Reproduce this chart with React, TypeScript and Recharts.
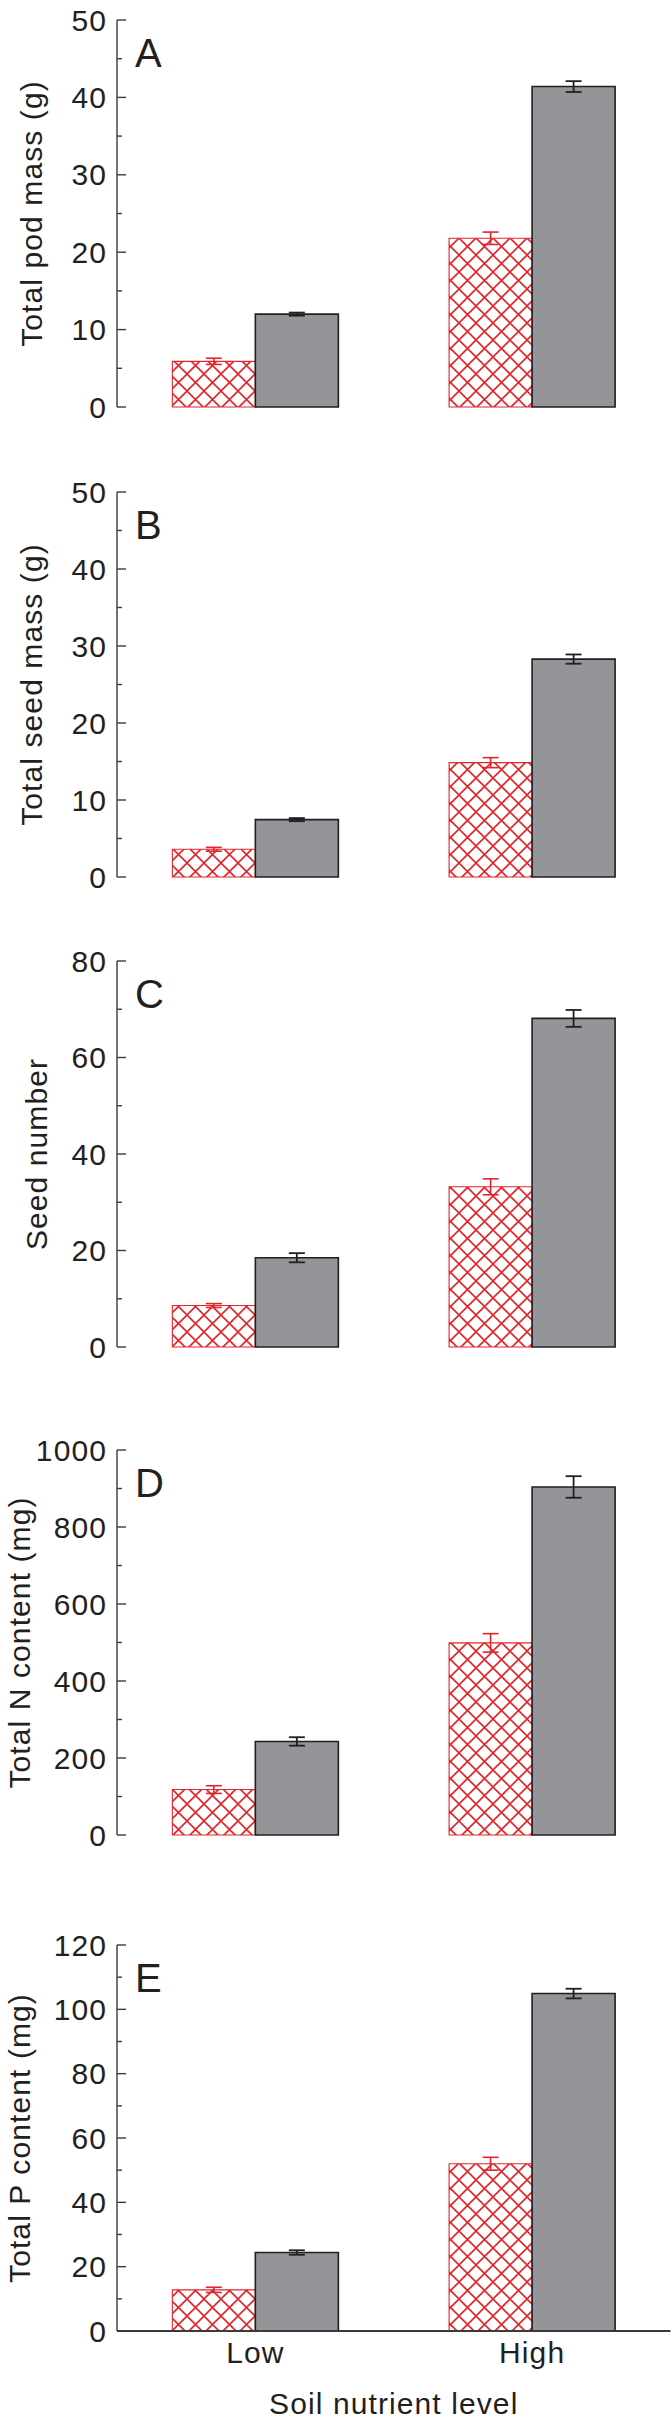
import React from 'react';
import { BarChart, Bar, XAxis, YAxis, ErrorBar } from 'recharts';

// soil nutrient levels (categories)
const levels = ['Low', 'High'];

// A: total pod mass (g)
const podMassHatched = [5.9, 21.8];
const podMassHatchedErr = [0.4, 0.8];
const podMassGray = [12.0, 41.4];
const podMassGrayErr = [0.2, 0.7];
const podMassTicks = [0, 10, 20, 30, 40, 50];

// B: total seed mass (g)
const seedMassHatched = [3.6, 14.85];
const seedMassHatchedErr = [0.25, 0.65];
const seedMassGray = [7.45, 28.3];
const seedMassGrayErr = [0.2, 0.6];
const seedMassTicks = [0, 10, 20, 30, 40, 50];

// C: seed number
const seedNumHatched = [8.6, 33.2];
const seedNumHatchedErr = [0.4, 1.65];
const seedNumGray = [18.5, 68.1];
const seedNumGrayErr = [0.95, 1.75];
const seedNumTicks = [0, 20, 40, 60, 80];

// D: total N content (mg)
const nHatched = [118, 499];
const nHatchedErr = [10, 24];
const nGray = [243, 904];
const nGrayErr = [11, 28];
const nTicks = [0, 200, 400, 600, 800, 1000];

// E: total P content (mg)
const pHatched = [12.8, 52.0];
const pHatchedErr = [0.8, 2.0];
const pGray = [24.4, 104.9];
const pGrayErr = [0.7, 1.5];
const pTicks = [0, 20, 40, 60, 80, 100, 120];

const FONT = '"Liberation Sans", Arial, Helvetica, sans-serif';
const RED = '#e1252c';
const GRAY = '#939598';
const INK = '#231f20';
const FRAME = '#3a3a3a';
const M_TOP = 20;

const panels = [
    { id: 'a', letter: 'A', title: 'Total pod mass (g)', titleX: 31, top: 20, bottom: 407,
      ticks: podMassTicks, hatched: podMassHatched, hatchedErr: podMassHatchedErr, gray: podMassGray, grayErr: podMassGrayErr },
    { id: 'b', letter: 'B', title: 'Total seed mass (g)', titleX: 31, top: 492, bottom: 877,
      ticks: seedMassTicks, hatched: seedMassHatched, hatchedErr: seedMassHatchedErr, gray: seedMassGray, grayErr: seedMassGrayErr },
    { id: 'c', letter: 'C', title: 'Seed number', titleX: 36, top: 961, bottom: 1347,
      ticks: seedNumTicks, hatched: seedNumHatched, hatchedErr: seedNumHatchedErr, gray: seedNumGray, grayErr: seedNumGrayErr },
    { id: 'd', letter: 'D', title: 'Total N content (mg)', titleX: 19, top: 1450, bottom: 1835,
      ticks: nTicks, hatched: nHatched, hatchedErr: nHatchedErr, gray: nGray, grayErr: nGrayErr },
    { id: 'e', letter: 'E', title: 'Total P content (mg)', titleX: 19, top: 1945, bottom: 2331,
      ticks: pTicks, hatched: pHatched, hatchedErr: pHatchedErr, gray: pGray, grayErr: pGrayErr, last: true },
];

const textStyle = { fontFamily: FONT, fontSize: 30, fill: INK, letterSpacing: 1.1 };

// y tick: labelled major ticks, short minor ticks, both pointing into the plot
const YTick = ({ x, y, payload, majors }: any) => {
    const major = majors.includes(payload.value);
    return (
        <g>
            <line x1={x} x2={x + (major ? 9 : 5)} y1={y} y2={y} stroke={FRAME} strokeWidth={1.4} />
            {major && (
                <text x={x - 10} y={y} textAnchor="end" dominantBaseline="central" style={textStyle}>
                    {payload.value}
                </text>
            )}
        </g>
    );
};

const XTick = ({ x, y, payload }: any) => (
    <text x={x} y={y + 32} textAnchor="middle" style={textStyle}>
        {payload.value}
    </text>
);

const Panel = ({ p }: { p: any }) => {
    const data = levels.map((level, i) => ({
        level,
        hatched: p.hatched[i],
        hatchedErr: p.hatchedErr[i],
        gray: p.gray[i],
        grayErr: p.grayErr[i],
    }));
    const max = p.ticks[p.ticks.length - 1];
    const step = p.ticks[1] - p.ticks[0];
    const allTicks: number[] = [];
    p.ticks.forEach((t: number, i: number) => {
        allTicks.push(t);
        if (i < p.ticks.length - 1) allTicks.push(t + step / 2);
    });
    const plotH = p.bottom - p.top;
    const height = p.last ? 2422 - (p.top - M_TOP) : M_TOP + plotH + 20;
    const xAxisH = p.last ? height - M_TOP - plotH : 0;
    const patternId = `hatch-${p.id}`;

    return (
        <div style={{ position: 'absolute', left: 0, top: p.top - M_TOP }}>
            <BarChart
                width={672}
                height={height}
                data={data}
                margin={{ top: M_TOP, right: 1.5, left: 0, bottom: p.last ? 0 : 20 }}
                barCategoryGap="20%"
                barGap={0}
            >
                <defs>
                    <pattern id={patternId} width={17} height={17} patternUnits="userSpaceOnUse">
                        <rect width={17} height={17} fill="#fff" />
                        <path d="M0,0 L17,17 M17,0 L0,17" stroke={RED} strokeWidth={1.6} />
                    </pattern>
                </defs>
                <XAxis
                    dataKey="level"
                    xAxisId="bottom"
                    height={xAxisH}
                    axisLine={{ stroke: FRAME, strokeWidth: 2.2 }}
                    tickLine={false}
                    tickSize={0}
                    tickMargin={0}
                    tick={p.last ? <XTick /> : false}
                />
                <XAxis
                    dataKey="level"
                    xAxisId="top"
                    orientation="top"
                    height={0}
                    axisLine={{ stroke: FRAME, strokeWidth: 1.4 }}
                    tickLine={false}
                    tick={false}
                />
                <YAxis
                    yAxisId="left"
                    width={117}
                    domain={[0, max]}
                    ticks={allTicks}
                    interval={0}
                    axisLine={{ stroke: FRAME, strokeWidth: 1.4 }}
                    tickLine={false}
                    tickSize={0}
                    tickMargin={0}
                    tick={<YTick majors={p.ticks} />}
                />
                <YAxis
                    yAxisId="right"
                    orientation="right"
                    width={0}
                    domain={[0, max]}
                    axisLine={{ stroke: FRAME, strokeWidth: 1.4 }}
                    tickLine={false}
                    tick={false}
                />
                <Bar
                    dataKey="hatched"
                    xAxisId="bottom"
                    yAxisId="left"
                    fill={`url(#${patternId})`}
                    stroke={RED}
                    strokeWidth={1.1}
                    isAnimationActive={false}
                >
                    <ErrorBar dataKey="hatchedErr" width={8} stroke={RED} strokeWidth={1.6} direction="y" />
                </Bar>
                <Bar
                    dataKey="gray"
                    xAxisId="bottom"
                    yAxisId="left"
                    fill={GRAY}
                    stroke={INK}
                    strokeWidth={1.6}
                    isAnimationActive={false}
                >
                    <ErrorBar dataKey="grayErr" width={8} stroke={INK} strokeWidth={1.8} direction="y" />
                </Bar>
                <text x={135} y={M_TOP + 47} style={{ fontFamily: FONT, fontSize: 40, fill: INK }}>
                    {p.letter}
                </text>
                <text
                    x={p.titleX}
                    y={M_TOP + plotH / 2}
                    transform={`rotate(-90 ${p.titleX} ${M_TOP + plotH / 2})`}
                    textAnchor="middle"
                    dominantBaseline="central"
                    style={textStyle}
                >
                    {p.title}
                </text>
                {p.last && (
                    <text x={393.75} y={M_TOP + plotH + 83} textAnchor="middle" style={textStyle}>
                        Soil nutrient level
                    </text>
                )}
            </BarChart>
        </div>
    );
};

export default function App() {
    return (
        <div style={{ position: 'absolute', left: 0, top: 0, width: 672, height: 2422, background: '#fff' }}>
            {panels.map((p) => (
                <Panel key={p.id} p={p} />
            ))}
        </div>
    );
}
